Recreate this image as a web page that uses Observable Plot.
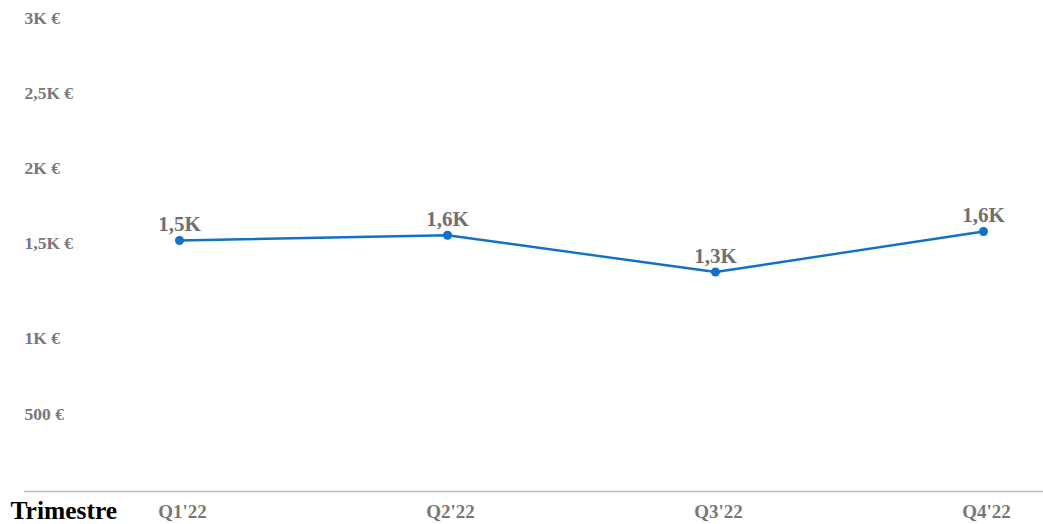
<!DOCTYPE html>
<html>
<head>
<meta charset="utf-8">
<script src="https://cdn.jsdelivr.net/npm/d3@7"></script>
<script src="https://cdn.jsdelivr.net/npm/@observablehq/plot@0.6"></script>
<style>
  html, body { margin: 0; padding: 0; background: #fff; }
  #chart svg { display: block; }
</style>
</head>
<body>
<div id="chart"></div>
<script>
const quarters = ["Q1'22", "Q2'22", "Q3'22", "Q4'22"];
const values = [1520, 1555, 1350, 1580];
const valueLabels = ["1,5K", "1,6K", "1,3K", "1,6K"];
const tickValues = [500, 1000, 1500, 2000, 2500, 3000];
const tickLabels = ["500 €", "1K €", "1,5K €", "2K €", "2,5K €", "3K €"];
const xTitle = "Trimestre";

const data = quarters.map((q, i) => ({q, v: values[i], label: valueLabels[i]}));
const ticks = tickValues.map((v, i) => ({v, label: tickLabels[i]}));

const font = "'Liberation Serif', 'DejaVu Serif', serif";

const chart = Plot.plot({
  width: 1043,
  height: 524,
  marginLeft: 24,
  marginRight: 0,
  marginTop: 0,
  marginBottom: 0,
  style: {fontFamily: font, background: "#fff"},
  x: {type: "point", domain: quarters, range: [178, 984], padding: 0, axis: null},
  y: {type: "linear", domain: [0, 500, 1000, 1500, 3000], range: [491, 414, 338, 243, 18], axis: null},
  marks: [
    Plot.ruleY([0], {stroke: "#bbbbbb", strokeWidth: 1.5}),
    Plot.text(ticks, {
      y: "v", text: "label", frameAnchor: "left", textAnchor: "start",
      fill: "#777777", fontSize: 17.5, fontWeight: "bold"
    }),
    Plot.line(data, {x: "q", y: "v", stroke: "#1170c8", strokeWidth: 2.4}),
    Plot.dot(data, {x: "q", y: "v", fill: "#1170c8", r: 4.5}),
    Plot.text(data, {
      x: "q", y: "v", text: "label", dy: -16, fill: "#707070",
      fontSize: 21, fontWeight: "bold"
    }),
    Plot.text(data, {
      x: "q", text: "q", frameAnchor: "bottom", lineAnchor: "middle", dy: -12.5, dx: 3,
      fill: "#777777", fontSize: 19, fontWeight: "bold"
    }),
    Plot.text([xTitle], {
      frameAnchor: "bottom-left", textAnchor: "start", lineAnchor: "middle", dx: -14, dy: -13.5,
      fill: "#000", fontSize: 25.5, fontWeight: "bold"
    })
  ]
});
document.getElementById("chart").appendChild(chart);
</script>
</body>
</html>
